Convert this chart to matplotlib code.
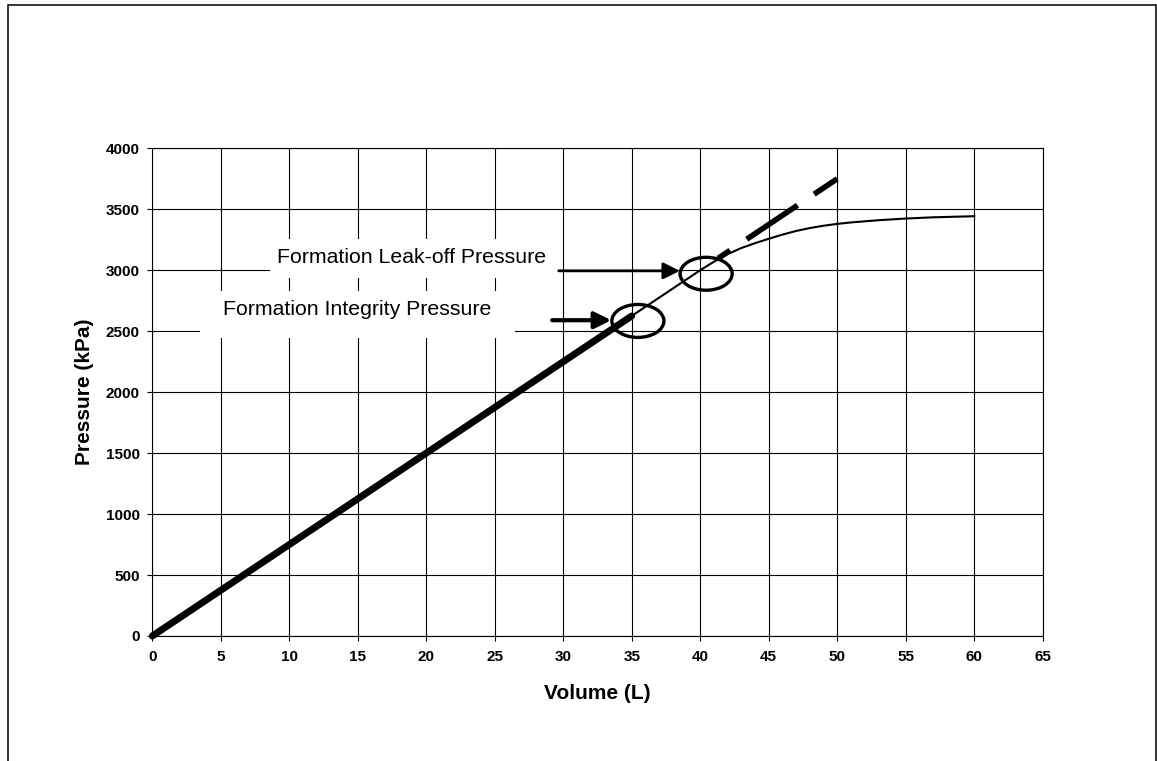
import matplotlib
matplotlib.use('Agg')
import matplotlib.pyplot as plt
from matplotlib.patches import Ellipse, Rectangle

plt.rcParams['font.family'] = ['Liberation Sans', 'DejaVu Sans']

# measured curve (volume in L, pressure in kPa)
volume = [0, 35, 40, 41, 42, 43, 44, 45, 46, 47, 48, 49, 50, 51, 52, 53, 55, 57, 60]
pressure = [0, 2625, 3000, 3070, 3132, 3182, 3222, 3258, 3292, 3322, 3346, 3365, 3380,
            3392, 3401, 3410, 3424, 3434, 3443]

# formation integrity (thick) and extrapolated straight line (dashed)
fit_volume = [0, 35]
fit_pressure = [0, 2625]
extrap_volume = [41.3, 50]
extrap_pressure = [3097.5, 3750]

# annotations: label, text pos, arrow tail, arrow tip, circle centre, white box
labels = ['Formation Leak-off Pressure', 'Formation Integrity Pressure']
text_pos = [(18.93, 3060), (14.96, 2631)]
arrow_tail = [(29.67, 2995), (29.19, 2590)]
arrow_tip = [(38.51, 2995), (33.50, 2590)]
arrow_lw = [2.0, 3.0]
circle_xy = [(40.43, 2971), (35.45, 2584)]
box_x = [(8.62, 29.65), (3.51, 26.51)]
box_y = [(2937, 3254), (2445, 2828)]

fig = plt.figure(figsize=(11.57, 7.61), dpi=100)
ax = fig.add_axes([0.13163, 0.16426, 0.76958, 0.64086])

ax.plot(volume, pressure, color='black', lw=1.5, zorder=3, clip_on=False)
ax.plot(fit_volume, fit_pressure, color='black', lw=5, solid_capstyle='round',
        zorder=4, clip_on=False)
ax.plot(extrap_volume, extrap_pressure, color='black', lw=4,
        linestyle=(8.4, (11.0, 3.6)), zorder=4)

for i in range(2):
    ax.add_patch(Rectangle((box_x[i][0], box_y[i][0]), box_x[i][1] - box_x[i][0],
                           box_y[i][1] - box_y[i][0], facecolor='white',
                           edgecolor='none', zorder=1))
    ax.text(text_pos[i][0], text_pos[i][1], labels[i], ha='center', va='baseline',
            fontsize=15.3, zorder=5)
    ax.annotate('', xy=arrow_tip[i], xytext=arrow_tail[i],
                arrowprops=dict(arrowstyle='-|>,head_length=10,head_width=5',
                                mutation_scale=1, lw=arrow_lw[i], color='black',
                                shrinkA=0, shrinkB=0), zorder=5)
    ax.add_patch(Ellipse(circle_xy[i], 3.8, 270, facecolor='none',
                         edgecolor='black', lw=2.4, zorder=5))

ax.set_xlim(0, 65)
ax.set_ylim(0, 4000)
ax.set_xticks(range(0, 66, 5))
ax.set_yticks(range(0, 4001, 500))
ax.set_axisbelow(True)
ax.grid(True, color='black', lw=0.8)
for s in ax.spines.values():
    s.set_linewidth(0.8)
ax.tick_params(direction='out', length=3.4, width=0.8, labelsize=11)
ax.tick_params(axis='x', pad=7)
ax.tick_params(axis='y', pad=5.5)
for lab in ax.get_xticklabels() + ax.get_yticklabels():
    lab.set_fontweight('bold')

ax.set_xlabel('Volume (L)', fontsize=15, fontweight='bold', va='center')
ax.set_ylabel('Pressure (kPa)', fontsize=15, fontweight='bold', va='center')
ax.xaxis.set_label_coords(0.5, -0.118)
ax.yaxis.set_label_coords(-0.0767, 0.5)

# chart border
fig.patches.append(Rectangle((8.3 / 1157, -0.1), (1156 - 8.3) / 1157, 1.09382,
                             transform=fig.transFigure, facecolor='none',
                             edgecolor='black', lw=1.1))

fig.savefig('out.png', dpi=100)
